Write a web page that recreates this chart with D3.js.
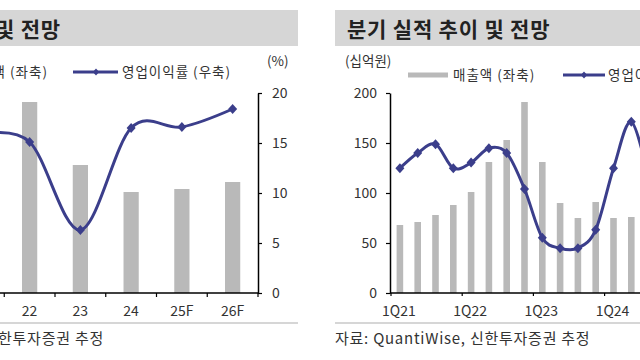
<!DOCTYPE html>
<html><head><meta charset="utf-8">
<script src="https://cdn.jsdelivr.net/npm/d3@7"></script>
<style>html,body{margin:0;padding:0;background:#fff;overflow:hidden}</style>
</head><body><svg id="c" width="640" height="360"></svg>
<script>
// ---- Annual (left panel, partly cut off) ----
const annualCats = ["21", "22", "23", "24", "25F", "26F"];
const annualRevenue = [305, 573, 384, 303, 312, 333];      // 십억원 (left axis, hidden)
const annualMargin = [15.8, 15.1, 6.3, 16.5, 16.6, 18.4];   // % (right axis)
const annualMarginTicks = [0, 5, 10, 15, 20];

// ---- Quarterly (right panel, partly cut off) ----
const quarters = ["1Q21","2Q21","3Q21","4Q21","1Q22","2Q22","3Q22","4Q22",
                  "1Q23","2Q23","3Q23","4Q23","1Q24","2Q24","3Q24"];
const quarterRevenue = [68, 71, 78, 88, 101, 131, 153, 191, 131, 90, 75, 91, 75, 76, 75];
const quarterMargin = [15.6, 17.5, 18.6, 15.6, 16.3, 18.1, 17.5, 13.0, 6.9, 5.6, 5.6, 7.9, 15.6, 21.4, 14.0];
const revenueTicks = [0, 50, 100, 150, 200];
const quarterLabels = ["1Q21", "1Q22", "1Q23", "1Q24"];

const svg = d3.select("#c");
const font = "'Noto Sans CJK KR', 'Noto Sans', sans-serif";
const navy = "#3b3e8b", barGray = "#b9b9b9", textCol = "#333", titleBg = "#d6d6d6";

function diamond(g, x, y, r, color) {
  g.append("path")
    .attr("d", `M${x},${y - r}L${x + r * 0.9},${y}L${x},${y + r}L${x - r * 0.9},${y}Z`)
    .attr("fill", color);
}
function txt(x, y, s, size, anchor, weight, ls) {
  return svg.append("text").attr("x", x).attr("y", y).text(s)
    .attr("font-family", font).attr("font-size", size)
    .attr("font-weight", weight || 400)
    .attr("letter-spacing", ls || 0)
    .attr("text-anchor", anchor || "start").attr("fill", textCol);
}

// ===== Title bars =====
svg.append("rect").attr("x", -10).attr("y", 10).attr("width", 308).attr("height", 36).attr("fill", titleBg);
svg.append("rect").attr("x", 335).attr("y", 10).attr("width", 320).attr("height", 36).attr("fill", titleBg);
txt(61, 37, "연간 실적 추이 및 전망", 21, "end", 700, 0.8).attr("fill", "#222");
txt(347, 37, "분기 실적 추이 및 전망", 21, "start", 700, 0.8).attr("fill", "#222");

// ===== Bottom separators & sources =====
svg.append("line").attr("x1", -10).attr("x2", 298).attr("y1", 323).attr("y2", 323).attr("stroke", "#c8c8c8").attr("stroke-width", 1.5);
svg.append("line").attr("x1", 335).attr("x2", 650).attr("y1", 323).attr("y2", 323).attr("stroke", "#c8c8c8").attr("stroke-width", 1.5);
txt(104, 344, "자료: QuantiWise, 신한투자증권 추정", 15, "end", 400, 0.75);
txt(335, 344, "자료: QuantiWise, 신한투자증권 추정", 15, "start", 400, 0.75);

// ===== Left panel =====
const xA = d3.scaleBand().domain(annualCats).range([-46.5, 258]);
const yRevA = d3.scaleLinear().domain([0, 600]).range([293, 93]);
const yMarA = d3.scaleLinear().domain([0, 20]).range([293, 93]);
const gA = svg.append("g");
const bwA = xA.bandwidth() * 0.3;

gA.selectAll("rect.bar").data(annualCats).join("rect")
  .attr("x", (d) => xA(d) + xA.bandwidth() / 2 - bwA / 2)
  .attr("y", (d, i) => yRevA(annualRevenue[i]))
  .attr("width", bwA)
  .attr("height", (d, i) => yRevA(0) - yRevA(annualRevenue[i]))
  .attr("fill", barGray);

// x axis
gA.append("line").attr("x1", -50).attr("x2", 258).attr("y1", 293).attr("y2", 293).attr("stroke", "#000").attr("stroke-width", 1.5);
annualCats.forEach((c) => {
  gA.append("line").attr("x1", xA(c) + xA.bandwidth()).attr("x2", xA(c) + xA.bandwidth())
    .attr("y1", 293).attr("y2", 297).attr("stroke", "#000").attr("stroke-width", 1.2);
});
annualCats.forEach((c) => {
  txt(xA(c) + xA.bandwidth() / 2, 316, c, 14, "middle");
});

// right axis (%)
const axR = gA.append("g").attr("transform", "translate(258,0)")
  .call(d3.axisRight(yMarA).tickValues(annualMarginTicks).tickSize(4).tickSizeOuter(0).tickPadding(10));
axR.select(".domain").attr("stroke", "#000").attr("stroke-width", 1.5);
axR.selectAll(".tick line").attr("stroke", "#000").attr("stroke-width", 1.2);
axR.selectAll(".tick text").attr("font-family", font).attr("font-size", 14).attr("fill", textCol);
txt(267, 66, "(%)", 13.5, "start");

// margin line
const lineA = d3.line().curve(d3.curveCardinal.tension(0))
  .x((d, i) => xA(annualCats[i]) + xA.bandwidth() / 2).y((d) => yMarA(d));
gA.append("path").datum(annualMargin).attr("d", lineA)
  .attr("fill", "none").attr("stroke", navy).attr("stroke-width", 3);
annualMargin.forEach((v, i) => diamond(gA, xA(annualCats[i]) + xA.bandwidth() / 2, yMarA(v), 5, navy));

// legend
svg.append("line").attr("x1", -40).attr("x2", -5).attr("y1", 72).attr("y2", 72).attr("stroke", barGray).attr("stroke-width", 5);
txt(48, 77, "매출액 (좌축)", 13.5, "end", 400, 1);
svg.append("line").attr("x1", 73).attr("x2", 118).attr("y1", 72).attr("y2", 72).attr("stroke", navy).attr("stroke-width", 3);
diamond(svg, 96, 72, 3.5, navy);
txt(122, 77, "영업이익률 (우축)", 13.5, "start", 400, 1);

// ===== Right panel =====
const step = 17.8;
const xQ = d3.scaleBand().domain(quarters).range([391, 391 + step * quarters.length]);
const yRevQ = d3.scaleLinear().domain([0, 200]).range([293, 93]);
const yMarQ = d3.scaleLinear().domain([0, 25]).range([293, 93]);
const gQ = svg.append("g");
const bwQ = xQ.bandwidth() * 0.37;

gQ.selectAll("rect.bar").data(quarters).join("rect")
  .attr("x", (d) => xQ(d) + xQ.bandwidth() / 2 - bwQ / 2)
  .attr("y", (d, i) => yRevQ(quarterRevenue[i]))
  .attr("width", bwQ)
  .attr("height", (d, i) => yRevQ(0) - yRevQ(quarterRevenue[i]))
  .attr("fill", barGray);

// x axis
gQ.append("line").attr("x1", 390).attr("x2", 660).attr("y1", 293).attr("y2", 293).attr("stroke", "#000").attr("stroke-width", 1.5);
quarterLabels.forEach((q) => {
  gQ.append("line").attr("x1", xQ(q)).attr("x2", xQ(q)).attr("y1", 293).attr("y2", 296).attr("stroke", "#000").attr("stroke-width", 1.2);
  txt(xQ(q) + xQ.bandwidth() / 2 - 1, 316, q, 14, "middle");
});

// left axis
const axL = gQ.append("g").attr("transform", "translate(390,0)")
  .call(d3.axisLeft(yRevQ).tickValues(revenueTicks).tickSize(4).tickSizeOuter(0).tickPadding(9));
axL.select(".domain").attr("stroke", "#000").attr("stroke-width", 1.5);
axL.selectAll(".tick line").attr("stroke", "#000").attr("stroke-width", 1.2);
axL.selectAll(".tick text").attr("font-family", font).attr("font-size", 14).attr("fill", textCol);
txt(345, 66, "(십억원)", 13.5, "start");

// margin line
const lineQ = d3.line().curve(d3.curveCardinal.tension(0))
  .x((d, i) => xQ(quarters[i]) + xQ.bandwidth() / 2).y((d) => yMarQ(d));
gQ.append("path").datum(quarterMargin).attr("d", lineQ)
  .attr("fill", "none").attr("stroke", navy).attr("stroke-width", 3);
quarterMargin.forEach((v, i) => diamond(gQ, xQ(quarters[i]) + xQ.bandwidth() / 2, yMarQ(v), 5, navy));

// legend
svg.append("line").attr("x1", 408).attr("x2", 448).attr("y1", 75).attr("y2", 75).attr("stroke", barGray).attr("stroke-width", 5);
txt(453, 80, "매출액 (좌축)", 13.5, "start", 400, 1);
svg.append("line").attr("x1", 563).attr("x2", 605).attr("y1", 75).attr("y2", 75).attr("stroke", navy).attr("stroke-width", 3);
diamond(svg, 584, 75, 3.5, navy);
txt(608, 80, "영업이익률 (우축)", 13.5, "start", 400, 1);
</script>
</body></html>
